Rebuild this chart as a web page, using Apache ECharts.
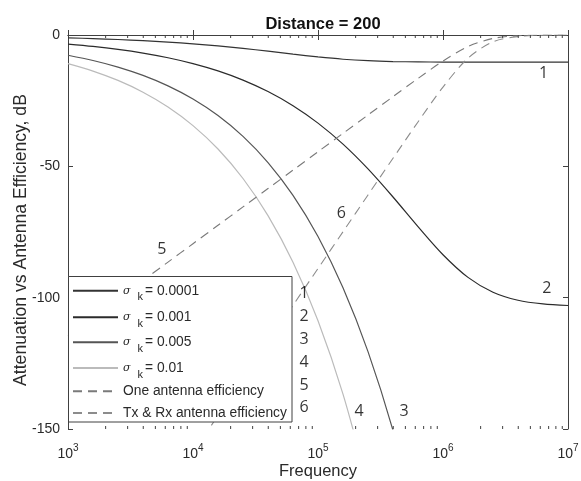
<!DOCTYPE html>
<html>
<head>
<meta charset="utf-8">
<script src="https://cdn.jsdelivr.net/npm/echarts@6/dist/echarts.min.js"></script>
<style>html,body{margin:0;padding:0;background:#fff}#c{width:581px;height:481px}</style>
</head>
<body>
<div id="c"></div>
<script>
// ---- data ----
const freqs = [1000, 1584.9, 2511.9, 3981.1, 6309.6, 10000, 15849, 25119, 39811, 63096,
  100000, 158489, 251189, 398107, 630957, 1000000, 1584893, 2511886, 3981072, 6309573, 10000000];
const sigmaValues = ['0.0001', '0.001', '0.005', '0.01'];
const att1 = [-1.09, -1.37, -1.72, -2.15, -2.69, -3.35, -4.16, -5.10, -6.17, -7.30, -8.36, -9.23, -9.79, -10.10, -10.24, -10.30, -10.33, -10.33, -10.34, -10.34, -10.34];
const att2 = [-3.45, -4.34, -5.46, -6.87, -8.65, -10.88, -13.67, -17.17, -21.53, -26.92, -33.55, -41.56, -50.99, -61.67, -72.95, -83.65, -92.28, -97.94, -100.99, -102.40, -102.99];
const att3 = [-7.71, -9.71, -12.22, -15.39, -19.37, -24.38, -30.68, -38.60, -48.56, -61.05, -76.71, -96.25, -120.55, -150.53, -187.07];
const att4 = [-10.91, -13.73, -17.29, -21.76, -27.40, -34.49, -43.41, -54.63, -68.75, -86.49, -108.78, -136.72, -171.68];
const effOne = [-114.45, -107.45, -100.45, -93.45, -86.45, -79.45, -72.45, -65.45, -58.45, -51.45, -44.45, -37.45, -30.45, -23.47, -16.55, -9.92, -4.41, -1.31, -0.29, -0.06, -0.01];
const effTxRx = [-228.9, -214.9, -200.9, -186.9, -172.9, -158.9, -144.9, -130.9, -116.9, -102.9, -88.9, -74.9, -60.9, -46.94, -33.10, -19.84, -8.82, -2.61, -0.59, -0.12, -0.02];
const effNames = ['One antenna efficiency', 'Tx & Rx antenna efficiency'];
const xTickExp = ['3', '4', '5', '6', '7'];
const minorTickFreqs = [];
[1e3, 1e4, 1e5, 1e6].forEach(d => { [2,3,4,5,6,7,8,9].forEach(k => minorTickFreqs.push(k * d)); });
// curve annotations (text, frequency, dB)
const noteText = ['1', '2', '3', '4', '5', '6', '1', '2', '3', '4', '5', '6'];
const noteFreq = [6.37e6, 6.76e6, 4.875e5, 2.128e5, 5620, 1.535e5, 7.73e4, 7.73e4, 7.73e4, 7.73e4, 7.73e4, 7.73e4];
const noteDb = [-14.5, -96.6, -143.5, -143.5, -81.5, -68.1, -98.2, -107.2, -116.0, -124.7, -133.3, -141.8];

// ---- chart ----
const sigmaNames = sigmaValues.map(v => 'σk = ' + v);
const allNames = sigmaNames.concat(effNames);
const pairs = arr => arr.map((v, i) => [freqs[i], v]);
const axisColor = '#404040';
const textColor = '#2a2a2a';
const solidColors = ['#333333', '#2b2b2b', '#555555', '#bbbbbb'];
const dashColors = ['#7a7a7a', '#8c8c8c'];
const attData = [att1, att2, att3, att4];

const series = [];
attData.forEach((arr, i) => {
  series.push({
    name: sigmaNames[i], type: 'line', data: pairs(arr), symbol: 'none', smooth: 0.3,
    lineStyle: { color: solidColors[i], width: 1.2 }, itemStyle: { color: solidColors[i] },
    z: 2, silent: true
  });
});
[effOne, effTxRx].forEach((arr, i) => {
  series.push({
    name: effNames[i], type: 'line', data: pairs(arr), symbol: 'none', smooth: 0.3,
    lineStyle: { color: dashColors[i], width: 1.1, type: [9, 6] }, itemStyle: { color: dashColors[i] },
    z: 2, silent: true
  });
});
series.push({
  type: 'custom', silent: true, clip: false, z: 3,
  data: minorTickFreqs.map(f => [f, 0]),
  renderItem: function (params, api) {
    const f = api.value(0);
    const pb = api.coord([f, -150]);
    const pt = api.coord([f, 0]);
    return { type: 'group', children: [
      { type: 'line', shape: { x1: pb[0], y1: pb[1], x2: pb[0], y2: pb[1] - 3 }, style: { stroke: axisColor, lineWidth: 1 } },
      { type: 'line', shape: { x1: pt[0], y1: pt[1], x2: pt[0], y2: pt[1] + 3 }, style: { stroke: axisColor, lineWidth: 1 } }
    ] };
  }
});
series.push({
  type: 'scatter', silent: true, symbolSize: 1, itemStyle: { color: 'rgba(0,0,0,0)' }, z: 5,
  data: noteText.map((t, i) => ({ name: t, value: [noteFreq[i], noteDb[i]] })),
  label: { show: true, position: 'inside', formatter: '{b}', fontSize: 16, fontFamily: 'Open Sans', color: '#000' }
});

// one legend row per entry, stacked inside a framed box
const legendRowY = [290.7, 317.3, 342.3, 368, 391.3, 413];
const legends = allNames.map((nm, i) => ({
  data: [nm], orient: 'horizontal', left: 68, top: legendRowY[i] - 7,
  itemWidth: 45, itemHeight: 14, padding: [0, 0, 0, 4],
  selectedMode: false, z: 10,
  itemStyle: { opacity: 0, borderWidth: 0 },
  textStyle: {
    fontFamily: 'Liberation Sans', fontSize: 13.8, color: textColor,
    rich: {
      s: { fontFamily: 'DejaVu Serif', fontStyle: 'italic', fontSize: 11, color: textColor },
      k: { fontFamily: 'Liberation Sans', fontSize: 11, padding: [13, 2, 0, 0], color: textColor },
      t: { fontFamily: 'Liberation Sans', fontSize: 13.8, color: textColor },
      p: { fontFamily: 'Liberation Sans', fontSize: 13.8, color: textColor }
    }
  },
  formatter: function (name) {
    const j = sigmaNames.indexOf(name);
    if (j >= 0) return '{s|σ  }{k|k}{t|= ' + sigmaValues[j] + '}';
    return '{p|' + name + '}';
  }
}));

const option = {
  animation: false,
  backgroundColor: '#fff',
  title: {
    text: 'Distance = 200', left: 318, textAlign: 'center', top: 11,
    textStyle: { fontFamily: 'Liberation Sans', fontSize: 16.5, fontWeight: 'bold', color: '#111' }
  },
  grid: { left: 68, right: 13, top: 35, bottom: 52, containLabel: false, outerBoundsMode: 'none' },
  graphic: [{
    type: 'rect', z: 6, silent: true,
    shape: { x: 68.5, y: 276.5, width: 223.5, height: 145.5 },
    style: { fill: '#fff', stroke: axisColor, lineWidth: 1 }
  }],
  legend: legends,
  xAxis: [{
    type: 'log', logBase: 10, min: 1000, max: 1e7, position: 'bottom',
    name: 'Frequency', nameLocation: 'middle', nameGap: 34, nameMoveOverlap: false,
    nameTextStyle: { fontFamily: 'Liberation Sans', fontSize: 16.5, color: textColor },
    axisLine: { show: true, lineStyle: { color: axisColor, width: 1 } },
    axisTick: { show: true, inside: true, length: 5, lineStyle: { color: axisColor } },
    splitLine: { show: false },
    axisLabel: {
      margin: 18, color: textColor,
      formatter: function (v) { const e = Math.round(Math.log10(v)); return '{b|10}{e|' + xTickExp[e - 3] + '}'; },
      rich: {
        b: { fontFamily: 'Liberation Sans', fontSize: 14, lineHeight: 14, color: textColor },
        e: { fontFamily: 'Liberation Sans', fontSize: 10, lineHeight: 10, padding: [0, 0, 12, 0], color: textColor }
      }
    }
  }, {
    type: 'log', logBase: 10, min: 1000, max: 1e7, position: 'top',
    axisLine: { show: true, lineStyle: { color: axisColor, width: 1 } },
    axisTick: { show: true, inside: true, length: 5, lineStyle: { color: axisColor } },
    axisLabel: { show: false }, splitLine: { show: false }
  }],
  yAxis: [{
    type: 'value', min: -150, max: 0, interval: 50, position: 'left',
    name: 'Attenuation vs Antenna Efficiency, dB', nameLocation: 'middle', nameGap: 38, nameMoveOverlap: false,
    nameTextStyle: { fontFamily: 'Liberation Sans', fontSize: 17.6, color: textColor, padding: [0, 16, 0, 0] },
    axisLine: { show: true, lineStyle: { color: axisColor, width: 1 } },
    axisTick: { show: true, inside: true, length: 5, lineStyle: { color: axisColor } },
    axisLabel: { margin: 8, fontFamily: 'Liberation Sans', fontSize: 14, color: textColor },
    splitLine: { show: false }
  }, {
    type: 'value', min: -150, max: 0, interval: 50, position: 'right',
    axisLine: { show: true, lineStyle: { color: axisColor, width: 1 } },
    axisTick: { show: true, inside: true, length: 5, lineStyle: { color: axisColor } },
    axisLabel: { show: false }, splitLine: { show: false }
  }],
  series: series
};
const chart = echarts.init(document.getElementById('c'), null, { renderer: 'canvas' });
chart.setOption(option);
</script>
</body>
</html>
